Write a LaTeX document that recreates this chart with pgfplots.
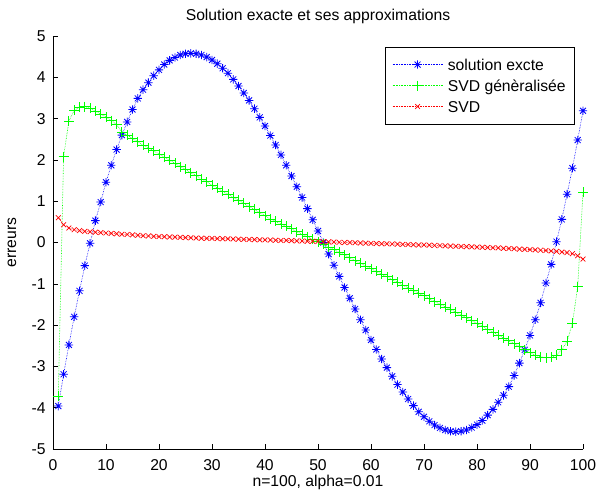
\documentclass[border=0pt]{standalone}
\usepackage{fontspec}
\setmainfont{Liberation Sans}
\usepackage{pgfplots}
\pgfplotsset{compat=1.18}
\pgfdeclareplotmark{mstar}{%
  \pgfpathmoveto{\pgfqpoint{-\pgfplotmarksize}{0pt}}\pgfpathlineto{\pgfqpoint{\pgfplotmarksize}{0pt}}%
  \pgfpathmoveto{\pgfqpoint{0pt}{-\pgfplotmarksize}}\pgfpathlineto{\pgfqpoint{0pt}{\pgfplotmarksize}}%
  \pgfpathmoveto{\pgfqpoint{-.7071\pgfplotmarksize}{-.7071\pgfplotmarksize}}\pgfpathlineto{\pgfqpoint{.7071\pgfplotmarksize}{.7071\pgfplotmarksize}}%
  \pgfpathmoveto{\pgfqpoint{-.7071\pgfplotmarksize}{.7071\pgfplotmarksize}}\pgfpathlineto{\pgfqpoint{.7071\pgfplotmarksize}{-.7071\pgfplotmarksize}}%
  \pgfusepathqstroke}
\definecolor{mblue}{rgb}{0,0,1}
\definecolor{mgreen}{rgb}{0,1,0}
\definecolor{mred}{rgb}{1,0,0}
\begin{document}
\fontsize{15.7pt}{18pt}\selectfont
\begin{tikzpicture}
\path[use as bounding box] (-53pt,-42pt) rectangle (544pt,449pt);
\begin{axis}[
  at={(0pt,0pt)}, anchor=south west,
  scale only axis, width=530pt, height=413pt,
  xmin=0, xmax=100, ymin=-5, ymax=5,
  xtick={0,10,...,100}, ytick={-5,-4,...,5},
  axis x line*=bottom, axis y line*=left,
  axis line style={black, line width=0.6pt},
  tick align=inside, major tick length=5pt,
  tick style={black, line width=0.6pt},
  /pgf/number format/assume math mode=true,
  xticklabel style={yshift=-5pt},
  yticklabel style={xshift=-2pt},
  title={Solution exacte et ses approximations},
  title style={at={(axis description cs:0.5,1)}, anchor=base, yshift=9.5pt, inner sep=0pt},
  xlabel={n=100, alpha=0.01},
  xlabel style={at={(axis description cs:0.5,0)}, anchor=base, yshift=-37pt, inner sep=0pt},
  ylabel={erreurs},
  ylabel style={at={(axis description cs:-0.0774,0.5)}, anchor=center, rotate=0, inner sep=0pt},
  legend image code/.code={\draw[mark repeat=2,mark phase=2,#1] plot coordinates {(0pt,0pt) (25pt,0pt) (50pt,0pt)};},
  legend cell align=left,
  legend style={at={(axis description cs:0.6264,0.974)}, anchor=north west, draw=black, line width=0.6pt,
    inner xsep=7pt, inner ysep=8pt, row sep=2pt,
    nodes={inner sep=2pt, text height=13.5pt, text depth=1.5pt},
    /tikz/every odd column/.append style={column sep=3pt}},
]
\addplot[mblue, densely dotted, line width=0.6pt, mark=mstar, mark size=4.2pt, mark options={solid, line width=0.8pt}] coordinates {
(1,-3.96)(2,-3.19)(3,-2.48)(4,-1.80)(5,-1.17)(6,-0.56)(7,-0.02)(8,0.53)(9,0.98)(10,1.46)
(11,1.87)(12,2.25)(13,2.60)(14,2.92)(15,3.22)(16,3.49)(17,3.70)(18,3.87)(19,4.04)(20,4.18)
(21,4.31)(22,4.41)(23,4.48)(24,4.54)(25,4.57)(26,4.58)(27,4.57)(28,4.54)(29,4.49)(30,4.42)
(31,4.33)(32,4.22)(33,4.10)(34,3.95)(35,3.79)(36,3.62)(37,3.44)(38,3.24)(39,3.03)(40,2.82)
(41,2.59)(42,2.36)(43,2.12)(44,1.87)(45,1.61)(46,1.35)(47,1.09)(48,0.82)(49,0.55)(50,0.28)
(51,0.00)(52,-0.28)(53,-0.55)(54,-0.82)(55,-1.09)(56,-1.35)(57,-1.61)(58,-1.87)(59,-2.12)(60,-2.36)
(61,-2.59)(62,-2.82)(63,-3.03)(64,-3.24)(65,-3.44)(66,-3.62)(67,-3.79)(68,-3.95)(69,-4.10)(70,-4.22)
(71,-4.33)(72,-4.42)(73,-4.49)(74,-4.54)(75,-4.57)(76,-4.58)(77,-4.57)(78,-4.54)(79,-4.48)(80,-4.41)
(81,-4.31)(82,-4.18)(83,-4.04)(84,-3.87)(85,-3.70)(86,-3.49)(87,-3.22)(88,-2.92)(89,-2.60)(90,-2.25)
(91,-1.87)(92,-1.46)(93,-0.98)(94,-0.53)(95,0.02)(96,0.56)(97,1.17)(98,1.80)(99,2.48)(100,3.19)
};
\addlegendentry{solution excte}
\addplot[mgreen, densely dotted, line width=0.6pt, mark=+, mark size=5pt, mark options={solid, line width=0.8pt}] coordinates {
(1,-3.72)(2,2.08)(3,2.94)(4,3.20)(5,3.28)(6,3.29)(7,3.25)(8,3.18)(9,3.11)(10,3.04)
(11,2.95)(12,2.86)(13,2.67)(14,2.60)(15,2.52)(16,2.44)(17,2.36)(18,2.29)(19,2.22)(20,2.14)
(21,2.07)(22,1.99)(23,1.92)(24,1.84)(25,1.77)(26,1.69)(27,1.62)(28,1.54)(29,1.47)(30,1.39)
(31,1.32)(32,1.24)(33,1.17)(34,1.10)(35,1.02)(36,0.95)(37,0.87)(38,0.80)(39,0.72)(40,0.65)
(41,0.57)(42,0.51)(43,0.45)(44,0.39)(45,0.33)(46,0.26)(47,0.20)(48,0.14)(49,0.08)(50,0.02)
(51,-0.04)(52,-0.11)(53,-0.17)(54,-0.24)(55,-0.30)(56,-0.37)(57,-0.44)(58,-0.50)(59,-0.57)(60,-0.63)
(61,-0.70)(62,-0.77)(63,-0.83)(64,-0.90)(65,-0.96)(66,-1.03)(67,-1.10)(68,-1.16)(69,-1.23)(70,-1.29)
(71,-1.36)(72,-1.43)(73,-1.49)(74,-1.56)(75,-1.62)(76,-1.69)(77,-1.76)(78,-1.82)(79,-1.89)(80,-1.96)
(81,-2.03)(82,-2.10)(83,-2.17)(84,-2.24)(85,-2.31)(86,-2.38)(87,-2.45)(88,-2.52)(89,-2.60)(90,-2.67)
(91,-2.73)(92,-2.77)(93,-2.79)(94,-2.78)(95,-2.73)(96,-2.60)(97,-2.39)(98,-1.96)(99,-1.07)(100,1.22)
};
\addlegendentry{SVD génèralisée}
\addplot[mred, densely dotted, line width=0.6pt, mark=x, mark size=3.4pt, mark options={solid, line width=0.7pt}] coordinates {
(1,0.60)(2,0.43)(3,0.35)(4,0.31)(5,0.29)(6,0.27)(7,0.26)(8,0.25)(9,0.24)(10,0.23)
(11,0.22)(12,0.21)(13,0.20)(14,0.195)(15,0.185)(16,0.175)(17,0.165)(18,0.16)(19,0.15)(20,0.145)
(21,0.14)(22,0.135)(23,0.13)(24,0.125)(25,0.12)(26,0.115)(27,0.11)(28,0.105)(29,0.10)(30,0.10)
(31,0.095)(32,0.09)(33,0.09)(34,0.085)(35,0.08)(36,0.075)(37,0.075)(38,0.07)(39,0.065)(40,0.065)
(41,0.06)(42,0.055)(43,0.05)(44,0.05)(45,0.045)(46,0.04)(47,0.035)(48,0.03)(49,0.03)(50,0.025)
(51,0.02)(52,0.015)(53,0.01)(54,0.005)(55,0.00)(56,0.00)(57,-0.005)(58,-0.01)(59,-0.015)(60,-0.02)
(61,-0.025)(62,-0.03)(63,-0.03)(64,-0.035)(65,-0.04)(66,-0.045)(67,-0.05)(68,-0.055)(69,-0.06)(70,-0.06)
(71,-0.065)(72,-0.07)(73,-0.075)(74,-0.08)(75,-0.085)(76,-0.09)(77,-0.095)(78,-0.10)(79,-0.105)(80,-0.11)
(81,-0.115)(82,-0.12)(83,-0.125)(84,-0.13)(85,-0.14)(86,-0.145)(87,-0.15)(88,-0.16)(89,-0.165)(90,-0.17)
(91,-0.18)(92,-0.185)(93,-0.195)(94,-0.205)(95,-0.215)(96,-0.23)(97,-0.245)(98,-0.27)(99,-0.32)(100,-0.40)
};
\addlegendentry{SVD}
\end{axis}
\end{tikzpicture}
\end{document}
